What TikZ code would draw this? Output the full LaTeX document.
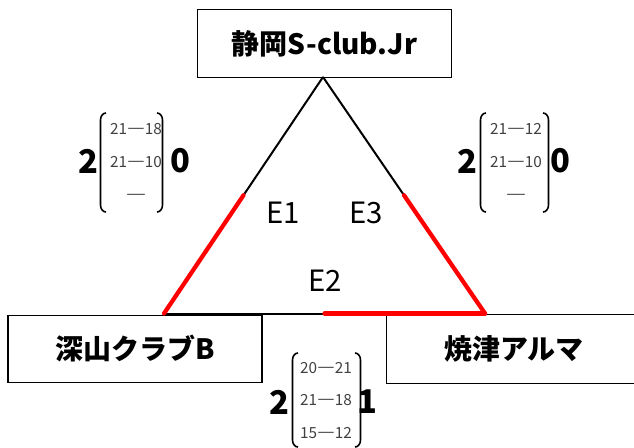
\documentclass[tikz,border=0pt]{standalone}
\usepackage{fontspec}
\setmainfont{Noto Sans CJK JP}
\usetikzlibrary{calc}
\newcommand{\scdash}{\scalebox{2.1}[1]{−}}
\begin{document}
\begin{tikzpicture}[x=0.75pt,y=-0.75pt,
  team/.style={draw, line width=0.9pt, minimum width=190.5pt, minimum height=50.5pt, inner sep=0pt,
    font=\bfseries\fontsize{21}{25}\selectfont},
  elabel/.style={inner sep=0pt, font=\fontsize{22}{26}\selectfont},
  bignum/.style={inner sep=0pt, font=\bfseries\fontsize{24.5}{28}\selectfont},
  score/.style={inner sep=0pt, text=black!75, font=\fontsize{11.5}{13}\selectfont},
  edgeblack/.style={line width=1.5pt, black},
  edgered/.style={line width=3.2pt, red, line cap=round},
  brk/.style={line width=1.2pt, black}
]
\useasboundingbox (0,0) rectangle (634,447);
\clip (0,0) rectangle (634,447);

% teams
\node[team] (top) at (324.5,43.5) {静岡S-club.Jr};
\node[team] (left) at (135,349) {深山クラブB};
\node[team, draw=none] (right) at (514,349) {焼津アルマ};
\draw[line width=0.9pt] ([xshift=30pt]right.north east) -- (right.north west) -- (right.south west) -- ([xshift=30pt]right.south east);

% triangle vertices
\coordinate (A) at (323,77);
\coordinate (B) at (164,313.5);
\coordinate (C) at (485,313.5);
\coordinate (AB) at ($(A)!0.5!(B)$);
\coordinate (AC) at ($(A)!0.5!(C)$);
\coordinate (BC) at ($(B)!0.5!(C)$);

\draw[edgeblack] (A) -- (AB);
\draw[edgeblack] (A) -- (AC);
\draw[edgeblack] (B) -- (BC);
\draw[edgered] (AB) -- (B);
\draw[edgered] (AC) -- (C);
\draw[edgered] (BC) -- (C);

% edge labels
\node[elabel] (e1) at (283,213) {E1};
\node[elabel] (e3) at (366,213) {E3};
\node[elabel] (e2) at (325,281) {E2};

% left score
\node[bignum] (l2) at (88,161) {2};
\node[bignum] (l0) at (180,161) {0};
\node[score] (l1a) at (136,129) {21\scdash18};
\node[score] (l1b) at (136,162) {21\scdash10};
\node[score] (l1c) at (136,197) {\scalebox{2.4}[1]{−}};
\draw[brk] (106,113) to[out=180,in=90] (100.5,120) -- (100.5,205) to[out=-90,in=180] (106,212);
\draw[brk] (157,113) to[out=0,in=90] (162.5,120) -- (162.5,205) to[out=-90,in=0] (157,212);

% right score
\node[bignum] (r2) at (467,161) {2};
\node[bignum] (r0) at (560,161) {0};
\node[score] (r1a) at (516,129) {21\scdash12};
\node[score] (r1b) at (516,162) {21\scdash10};
\node[score] (r1c) at (516,197) {\scalebox{2.4}[1]{−}};
\draw[brk] (486,113) to[out=180,in=90] (480.5,120) -- (480.5,205) to[out=-90,in=180] (486,212);
\draw[brk] (543,113) to[out=0,in=90] (548.5,120) -- (548.5,205) to[out=-90,in=0] (543,212);

% bottom score
\node[bignum] (b2) at (279,402) {2};
\node[bignum] (b1) at (367,402) {1};
\node[score] (b1a) at (326,368) {20\scdash21};
\node[score] (b1b) at (326,400) {21\scdash18};
\node[score] (b1c) at (326,433) {15\scdash12};
\draw[brk] (298,353) to[out=180,in=90] (292.5,360) -- (292.5,440) to[out=-90,in=180] (298,447);
\draw[brk] (355,353) to[out=0,in=90] (360.5,360) -- (360.5,440) to[out=-90,in=0] (355,447);
\end{tikzpicture}
\end{document}
